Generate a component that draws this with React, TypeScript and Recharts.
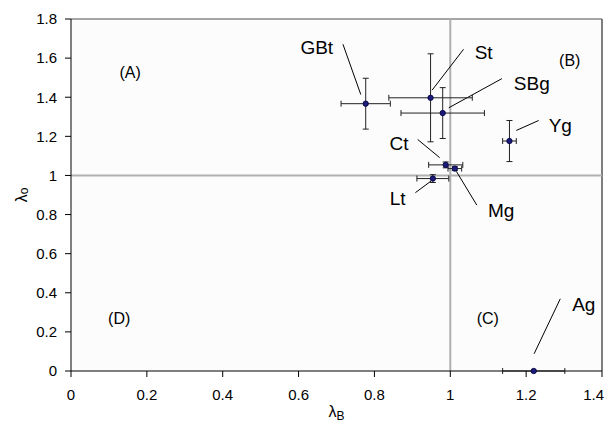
import {
  ScatterChart,
  Scatter,
  XAxis,
  YAxis,
  ErrorBar,
  ReferenceLine,
  ReferenceDot,
  CartesianGrid,
} from 'recharts'

const names = ['GBt', 'St', 'SBg', 'Yg', 'Ct', 'Mg', 'Lt', 'Ag']
const lambdaB = [0.777, 0.948, 0.98, 1.156, 0.988, 1.012, 0.954, 1.22]
const lambdaO = [1.367, 1.397, 1.319, 1.176, 1.054, 1.035, 0.984, 0]
const errB = [0.065, 0.11, 0.11, 0.018, 0.045, 0.018, 0.042, 0.082]
const errO = [0.13, 0.225, 0.13, 0.105, 0.015, 0.01, 0.02, 0]

// label text position, then leader line start -> end (data units)
const labelX = [0.648, 1.088, 1.215, 1.29, 0.865, 1.134, 0.861, 1.352]
const labelY = [1.654, 1.632, 1.47, 1.256, 1.165, 0.822, 0.882, 0.343]
const leadX1 = [0.717, 1.035, 1.136, 1.233, 0.914, 1.07, 0.908, 1.29]
const leadY1 = [1.671, 1.645, 1.495, 1.281, 1.184, 0.848, 0.912, 0.369]
const leadX2 = [0.764, 0.952, 0.996, 1.174, 0.972, 1.016, 0.949, 1.221]
const leadY2 = [1.414, 1.436, 1.346, 1.23, 1.091, 1.021, 0.971, 0.088]

const quadrants = ['(A)', '(B)', '(C)', '(D)']
const quadX = [0.156, 1.315, 1.099, 0.127]
const quadY = [1.528, 1.587, 0.267, 0.267]

const xTicks = [0, 0.2, 0.4, 0.6, 0.8, 1, 1.2, 1.4]
const yTicks = [0, 0.2, 0.4, 0.6, 0.8, 1, 1.2, 1.4, 1.6, 1.8]

const points = names.map((n, i) => ({
  name: n,
  b: lambdaB[i],
  o: lambdaO[i],
  eb: errB[i],
  eo: errO[i],
}))

const font = '"Liberation Sans", Arial, sans-serif'

const Dot = (p: any) => (
  <circle cx={p.cx} cy={p.cy} r={2.7} fill="#1c1c78" stroke="#000040" strokeWidth={0.8} />
)

// last tick sits at the right edge, keep it inside the page
const XTick = (p: any) => {
  const last = p.payload.value === xTicks[xTicks.length - 1]
  return (
    <text
      x={last ? p.x + 2 : p.x}
      y={p.y}
      dy="0.71em"
      textAnchor={last ? 'end' : 'middle'}
      fontSize={15}
      fontFamily={font}
      fill="#000"
    >
      {String(p.payload.value)}
    </text>
  )
}

export default function App() {
  return (
    <div style={{ fontFamily: font, width: 604, height: 412 }}>
      <style>{'body{overflow:hidden} svg.recharts-surface{overflow:visible}'}</style>
      <ScatterChart
        width={604}
        height={412}
        margin={{ top: 11, right: 10, left: 23, bottom: 19 }}
      >
        <CartesianGrid horizontal={false} vertical={false} fill="#fcfcfc" />
        <XAxis
          type="number"
          dataKey="b"
          domain={[0, 1.4]}
          ticks={xTicks}
          interval={0}
          height={30}
          tickSize={6}
          tickMargin={12}
          tick={XTick}
          axisLine={{ stroke: '#000' }}
          tickLine={{ stroke: '#000' }}
          label={{
            content: (p: any) => {
              const vb = p.viewBox
              return (
                <text
                  x={vb.x + vb.width / 2}
                  y={vb.y + 46}
                  textAnchor="middle"
                  fontSize={16}
                  fontFamily={font}
                  fill="#000"
                >
                  λ<tspan fontSize={12} dy={3}>B</tspan>
                </text>
              )
            },
          }}
        />
        <YAxis
          type="number"
          dataKey="o"
          domain={[0, 1.8]}
          ticks={yTicks}
          interval={0}
          width={40}
          tickSize={6}
          tickMargin={8}
          tick={{ fontSize: 15, fill: '#000', fontFamily: font }}
          axisLine={{ stroke: '#000' }}
          tickLine={{ stroke: '#000' }}
          label={{
            content: (p: any) => {
              const vb = p.viewBox
              const cx = 13
              const cy = vb.y + vb.height / 2
              return (
                <text
                  x={cx}
                  y={cy}
                  transform={`rotate(-90 ${cx} ${cy})`}
                  textAnchor="middle"
                  dominantBaseline="central"
                  fontSize={16}
                  fontFamily={font}
                  fill="#000"
                >
                  λ<tspan fontSize={12} dy={3}>o</tspan>
                </text>
              )
            },
          }}
        />
        <ReferenceLine y={1.8} stroke="#888" strokeWidth={1.5} />
        <ReferenceLine x={1.4} stroke="#555" strokeWidth={1.5} />
        <ReferenceLine x={1} stroke="#b0b0b0" strokeWidth={2} />
        <ReferenceLine y={1} stroke="#b0b0b0" strokeWidth={2} />
        {names.map((n, i) => (
          <ReferenceLine
            key={'lead' + n}
            segment={[
              { x: leadX1[i], y: leadY1[i] },
              { x: leadX2[i], y: leadY2[i] },
            ]}
            stroke="#000"
            strokeWidth={1}
          />
        ))}
        {names.map((n, i) => (
          <ReferenceDot
            key={'lab' + n}
            x={labelX[i]}
            y={labelY[i]}
            r={0}
            fill="none"
            stroke="none"
            label={{
              value: n,
              position: 'center',
              fontSize: 19,
              fill: '#000',
              fontFamily: font,
            }}
          />
        ))}
        {quadrants.map((q, i) => (
          <ReferenceDot
            key={'q' + q}
            x={quadX[i]}
            y={quadY[i]}
            r={0}
            fill="none"
            stroke="none"
            label={{
              value: q,
              position: 'center',
              fontSize: 16,
              fill: '#000',
              fontFamily: font,
            }}
          />
        ))}
        <Scatter data={points} shape={Dot} isAnimationActive={false}>
          <ErrorBar dataKey="eb" direction="x" width={3} stroke="#222" strokeWidth={1} />
          <ErrorBar dataKey="eo" direction="y" width={3} stroke="#222" strokeWidth={1} />
        </Scatter>
      </ScatterChart>
    </div>
  )
}
